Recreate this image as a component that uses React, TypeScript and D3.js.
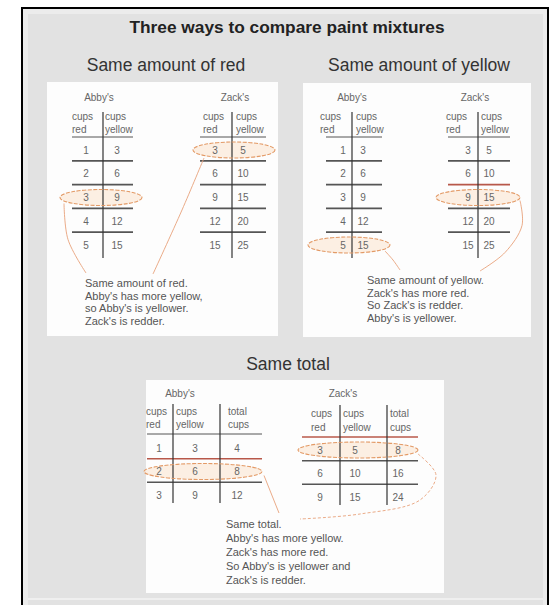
import React from 'react';
import * as d3 from 'd3';

const W = 552;
const H = 605;

// ---- data ----
const abbyRed = [1, 2, 3, 4, 5];
const abbyYellow = [3, 6, 9, 12, 15];
const zackRed = [3, 6, 9, 12, 15];
const zackYellow = [5, 10, 15, 20, 25];
const abbyRedT = [1, 2, 3];
const abbyYellowT = [3, 6, 9];
const abbyTotalT = [4, 8, 12];
const zackRedT = [3, 6, 9];
const zackYellowT = [5, 10, 15];
const zackTotalT = [8, 16, 24];

const titleText = 'Three ways to compare paint mixtures';
const panelTitles = ['Same amount of red', 'Same amount of yellow', 'Same total'];
const twoColHeaders = [['cups', 'red'], ['cups', 'yellow']];
const threeColHeaders = [['cups', 'red'], ['cups', 'yellow'], ['total', 'cups']];
const noteRed = ['Same amount of red.', "Abby's has more yellow,", "so Abby's is yellower.", "Zack's is redder."];
const noteYellow = ['Same amount of yellow.', "Zack's has more red.", "So Zack's is redder.", "Abby's is yellower."];
const noteTotal = ['Same total.', "Abby's has more yellow.", "Zack's has more red.", "So Abby's is yellower and", "Zack's is redder."];

const FONT = '"Liberation Sans", Arial, sans-serif';
const ELLIPSE_STROKE = '#e39a66';
const CONNECT = '#e8a27a';
const RED_LINE = '#b8584a';

type Spec = {
  label: string;
  labelX: number;
  labelY: number;
  headers: string[][];
  headerX: number[];
  headerY: number[];
  underlineY: number;
  cols: number[][];
  colX: number[];
  vLines: number[];
  vTop: number;
  vBottom: number;
  left: number;
  right: number;
  rowRange: [number, number];
  highlight: number;
  ex: number;
  rx: number;
  red: string | null; // 'under' or 'sep'
};

const rowScale = (s: Spec) =>
  d3.scaleLinear().domain([0, s.cols[0].length - 1]).range(s.rowRange);

const specs: Spec[] = [
  {
    label: "Abby's", labelX: 99, labelY: 101, headers: twoColHeaders, headerX: [72, 105],
    headerY: [120, 133], underlineY: 137, cols: [abbyRed, abbyYellow], colX: [86, 117],
    vLines: [103], vTop: 112, vBottom: 258, left: 72, right: 133, rowRange: [150, 245],
    highlight: 2, ex: 101, rx: 41, red: null,
  },
  {
    label: "Zack's", labelX: 235, labelY: 101, headers: twoColHeaders, headerX: [203, 236],
    headerY: [120, 133], underlineY: 137, cols: [zackRed, zackYellow], colX: [215, 243],
    vLines: [232], vTop: 112, vBottom: 258, left: 200, right: 266, rowRange: [150, 245],
    highlight: 0, ex: 234, rx: 41, red: null,
  },
  {
    label: "Abby's", labelX: 352, labelY: 101, headers: twoColHeaders, headerX: [320, 356],
    headerY: [120, 133], underlineY: 137, cols: [abbyRed, abbyYellow], colX: [343, 363],
    vLines: [352], vTop: 112, vBottom: 258, left: 326, right: 382, rowRange: [150, 245],
    highlight: 4, ex: 349, rx: 41, red: null,
  },
  {
    label: "Zack's", labelX: 475, labelY: 101, headers: twoColHeaders, headerX: [446, 481],
    headerY: [120, 133], underlineY: 137, cols: [zackRed, zackYellow], colX: [468, 489],
    vLines: [478], vTop: 112, vBottom: 258, left: 448, right: 510, rowRange: [150, 245],
    highlight: 2, ex: 478, rx: 42, red: 'sep',
  },
  {
    label: "Abby's", labelX: 180, labelY: 397, headers: threeColHeaders, headerX: [146, 176, 228],
    headerY: [415, 428], underlineY: 434, cols: [abbyRedT, abbyYellowT, abbyTotalT], colX: [159, 195, 237],
    vLines: [173, 220], vTop: 404, vBottom: 503, left: 147, right: 262, rowRange: [448, 495],
    highlight: 1, ex: 203, rx: 59, red: 'sep',
  },
  {
    label: "Zack's", labelX: 343, labelY: 397, headers: threeColHeaders, headerX: [311, 343, 390],
    headerY: [417, 431], underlineY: 437, cols: [zackRedT, zackYellowT, zackTotalT], colX: [320, 355, 398],
    vLines: [340, 387], vTop: 405, vBottom: 505, left: 302, right: 418, rowRange: [450, 497],
    highlight: 0, ex: 358, rx: 60, red: 'under',
  },
];

const ellipseOf = (s: Spec) => ({ cx: s.ex, cy: rowScale(s)(s.highlight), rx: s.rx, ry: 8 });

function TableBack({ s }: { s: Spec }) {
  const e = ellipseOf(s);
  return <ellipse cx={e.cx} cy={e.cy} rx={e.rx} ry={e.ry} fill="#fbe9da" opacity={0.75} />;
}

function Table({ s }: { s: Spec }) {
  const y = rowScale(s);
  const n = s.cols[0].length;
  const seps = d3.range(n - 1).map((i) => (y(i) + y(i + 1)) / 2 - 1);
  return (
    <g fontFamily={FONT}>
      <text x={s.labelX} y={s.labelY} textAnchor="middle" fontSize={10} fill="#666">{s.label}</text>
      {s.headers.map((h, ci) => (
        <g key={ci}>
          <text x={s.headerX[ci]} y={s.headerY[0]} fontSize={10} fill="#666">{h[0]}</text>
          <text x={s.headerX[ci]} y={s.headerY[1]} fontSize={10} fill="#666">{h[1]}</text>
        </g>
      ))}
      <line x1={s.left} x2={s.right} y1={s.underlineY} y2={s.underlineY}
        stroke={s.red === 'under' ? RED_LINE : '#555'} strokeWidth={s.red === 'under' ? 1.4 : 1} />
      {seps.map((sy, i) => (
        <line key={i} x1={s.left} x2={s.right} y1={sy} y2={sy}
          stroke={s.red === 'sep' && i === s.highlight - 1 ? RED_LINE : '#555'} strokeWidth={1.6} />
      ))}
      {s.vLines.map((vx, i) => (
        <line key={i} x1={vx} x2={vx} y1={s.vTop} y2={s.vBottom} stroke="#333" strokeWidth={1.2} />
      ))}
      {s.cols.map((col, ci) =>
        col.map((v, ri) => (
          <text key={ci + '-' + ri} x={s.colX[ci]} y={y(ri) + 3.5} textAnchor="middle" fontSize={10} fill="#666">{v}</text>
        ))
      )}
    </g>
  );
}

function TableRing({ s }: { s: Spec }) {
  const e = ellipseOf(s);
  return (
    <ellipse cx={e.cx} cy={e.cy} rx={e.rx} ry={e.ry} fill="none"
      stroke={ELLIPSE_STROKE} strokeWidth={1.1} strokeDasharray="4 1.5" />
  );
}

function Note({ lines, x, y0, step }: { lines: string[]; x: number; y0: number; step: number }) {
  return (
    <g fontFamily={FONT} fontSize={11} fill="#555">
      {lines.map((t, i) => (
        <text key={i} x={x} y={y0 + i * step}>{t}</text>
      ))}
    </g>
  );
}

const curve = d3.line().curve(d3.curveCatmullRom.alpha(0.5));

export default function App() {
  const [t1, t2, t3, t4, t5, t6] = specs;
  const e1 = ellipseOf(t1), e2 = ellipseOf(t2), e3 = ellipseOf(t3), e4 = ellipseOf(t4), e5 = ellipseOf(t5), e6 = ellipseOf(t6);
  const noteRedPos = { x: 85, y0: 287, step: 12.7 };
  const noteYellowPos = { x: 367, y0: 284, step: 12.5 };
  const noteTotalPos = { x: 226, y0: 528, step: 14 };

  const connectors: [number, number][][] = [
    [[e1.cx - e1.rx + 4, e1.cy + 6], [e1.cx - e1.rx + 8, e1.cy + 42], [noteRedPos.x + 1, noteRedPos.y0 - 14]],
    [[e2.cx - 30, e2.cy + 8], [e2.cx - 52, e2.cy + 60], [noteRedPos.x + 68, noteRedPos.y0 - 13]],
    [[e3.cx + 36, e3.cy + 6], [e3.cx + 44, e3.cy + 15], [noteYellowPos.x + 33, noteYellowPos.y0 - 14]],
    [[e4.cx + e4.rx, e4.cy + 3], [e4.cx + e4.rx + 2, e4.cy + 28], [e4.cx + 27, e4.cy + 55], [noteYellowPos.x + 113, noteYellowPos.y0 - 13]],
    [[e5.cx + e5.rx + 2, e5.cy + 4], [noteTotalPos.x + 53, noteTotalPos.y0 - 15]],
    [[e6.cx + e6.rx, e6.cy + 4], [e6.cx + e6.rx + 18, e6.cy + 25], [e6.cx + e6.rx + 2, e6.cy + 50], [e6.cx + 2, e6.cy + 64], [noteTotalPos.x + 74, noteTotalPos.y0 - 9]],
  ];

  return (
    <svg width={W} height={H} style={{ position: 'absolute', left: 0, top: 0 }}>
      <rect x={0} y={0} width={W} height={H} fill="#ffffff" />
      <rect x={22} y={8} width={526} height={H + 20} fill="#ececec" stroke="#000" strokeWidth={2} />
      <rect x={28} y={14} width={515} height={H} fill="#e2e2e2" />
      <line x1={28} x2={543} y1={599} y2={599} stroke="#efefef" strokeWidth={2} />

      <text x={287} y={33} textAnchor="middle" fontFamily={FONT} fontWeight="bold" fontSize={17}
        fill="#222" textLength={315} lengthAdjust="spacingAndGlyphs">{titleText}</text>
      <text x={166} y={71} textAnchor="middle" fontFamily={FONT} fontSize={17.5} fill="#333">{panelTitles[0]}</text>
      <text x={419} y={71} textAnchor="middle" fontFamily={FONT} fontSize={17.5} fill="#333">{panelTitles[1]}</text>
      <text x={288} y={370} textAnchor="middle" fontFamily={FONT} fontSize={17.5} fill="#333">{panelTitles[2]}</text>

      <rect x={47} y={82} width={231} height={254} fill="#fdfdfd" />
      <rect x={303} y={83} width={228} height={254} fill="#fdfdfd" />
      <rect x={146} y={380} width={298} height={213} fill="#fdfdfd" />

      {specs.map((s, i) => <TableBack key={'b' + i} s={s} />)}
      {specs.map((s, i) => <Table key={'t' + i} s={s} />)}
      {specs.map((s, i) => <TableRing key={'r' + i} s={s} />)}

      {connectors.map((pts, i) => (
        <path key={i} d={curve(pts) || ''} fill="none" stroke={CONNECT} strokeWidth={0.9}
          strokeDasharray={i === 5 ? '3 2' : undefined} />
      ))}

      <Note lines={noteRed} {...noteRedPos} />
      <Note lines={noteYellow} {...noteYellowPos} />
      <Note lines={noteTotal} {...noteTotalPos} />
    </svg>
  );
}
